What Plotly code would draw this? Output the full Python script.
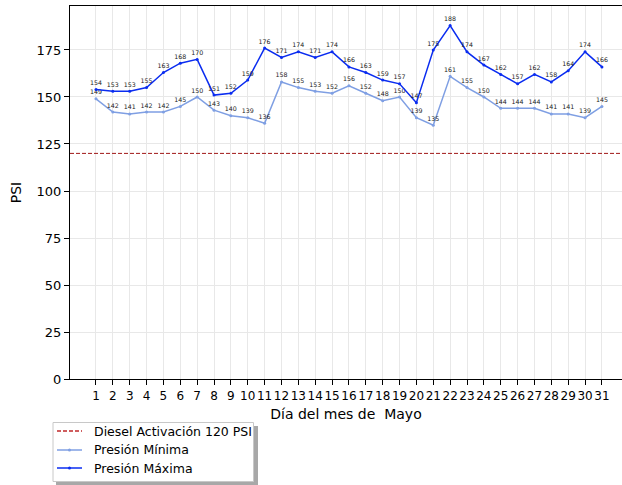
import plotly.graph_objects as go

days = list(range(1, 32))
p_max = [154,153,153,155,163,168,170,151,152,159,176,171,174,171,174,166,163,159,157,147,175,188,174,167,162,157,162,158,164,174,166]
p_min = [149,142,141,142,142,145,150,143,140,139,136,158,155,153,152,156,152,148,150,139,135,161,155,150,144,144,144,141,141,139,145]
diesel = 120
tick_labels = [str(d) for d in days]
legend_names = ["Diesel Activación 120 PSI", "Presión Mínima", "Presión Máxima"]

W, H = 622, 485
L, R, T, B = 70, 0, 6, 106
pw, ph = W - L - R, H - T - B

def px(xp):
    return (xp - L) / pw

def py(yp):
    return (H - B - yp) / ph

font = "DejaVu Sans, Verdana, sans-serif"
c_diesel, c_min, c_max = "#c0282a", "#7f9fe3", "#0a2cf0"

fig = go.Figure()
fig.add_trace(go.Scatter(
    x=[-0.54, 32.19], y=[diesel, diesel], mode="lines",
    line=dict(color="#a01818", width=1, dash="4px,2px"),
    name=legend_names[0]))
fig.add_trace(go.Scatter(
    x=days, y=p_min, mode="lines+markers+text",
    line=dict(color=c_min, width=1.5),
    marker=dict(size=3, color=c_min),
    text=[str(v) for v in p_min], textposition="top center",
    textfont=dict(size=6.3, color="#222", family=font),
    name=legend_names[1]))
fig.add_trace(go.Scatter(
    x=days, y=p_max, mode="lines+markers+text",
    line=dict(color=c_max, width=1.5),
    marker=dict(size=3, color=c_max),
    text=[str(v) for v in p_max], textposition="top center",
    textfont=dict(size=6.3, color="#222", family=font),
    name=legend_names[2]))

# manual legend (avoids margin auto-expansion)
fig.add_shape(type="rect", xref="paper", yref="paper",
              x0=px(56), x1=px(258), y0=py(485), y1=py(426),
              fillcolor="#a8a8a8", line=dict(width=0), layer="above")
fig.add_shape(type="rect", xref="paper", yref="paper",
              x0=px(53), x1=px(253.5), y0=py(481.5), y1=py(422.5),
              fillcolor="white", line=dict(color="#c8c8c8", width=1), layer="above")
rows = [431, 450, 468]
styles = [(c_diesel, "4px,2px", False), (c_min, "solid", True), (c_max, "solid", True)]
for yrow, name, (col, dash, dot) in zip(rows, legend_names, styles):
    fig.add_shape(type="line", xref="paper", yref="paper",
                  x0=px(57), x1=px(82), y0=py(yrow), y1=py(yrow),
                  line=dict(color=col, width=1.5, dash=dash), layer="above")
    if dot:
        fig.add_shape(type="circle", xref="paper", yref="paper",
                      x0=px(68), x1=px(71), y0=py(yrow + 1.5), y1=py(yrow - 1.5),
                      fillcolor=col, line=dict(width=0), layer="above")
    fig.add_annotation(xref="paper", yref="paper", x=px(92), y=py(yrow),
                       xanchor="left", yanchor="middle", showarrow=False,
                       text=name, font=dict(size=12.5, family=font, color="black"))

fig.update_layout(
    width=W, height=H,
    margin=dict(l=L, r=R, t=T, b=B, pad=0),
    paper_bgcolor="white", plot_bgcolor="white",
    font=dict(family=font, color="black"),
    showlegend=False,
    xaxis=dict(range=[-0.54, 32.19], tickmode="array", tickvals=days,
               ticktext=tick_labels, ticks="outside", ticklen=5,
               tickcolor="black", tickfont=dict(size=12), tickangle=0,
               showgrid=True, gridcolor="#e8e8e8", gridwidth=1,
               showline=True, linecolor="black", linewidth=1.2,
               zeroline=False, mirror=True, automargin=False,
               title=dict(text="Día del mes de \u00a0Mayo", font=dict(size=14), standoff=7)),
    yaxis=dict(range=[0, 198.4], tickvals=[0,25,50,75,100,125,150,175],
               ticks="outside", ticklen=5, tickcolor="black",
               tickfont=dict(size=13), automargin=False,
               showgrid=True, gridcolor="#e8e8e8", gridwidth=1,
               showline=True, linecolor="black", linewidth=1.2,
               zeroline=False, mirror=True,
               title=dict(text="PSI", font=dict(size=14), standoff=11)),
)

fig.write_html("out.html", config={"displayModeBar": False},
               post_script="document.body.style.margin='0px';document.body.style.overflow='hidden';")
